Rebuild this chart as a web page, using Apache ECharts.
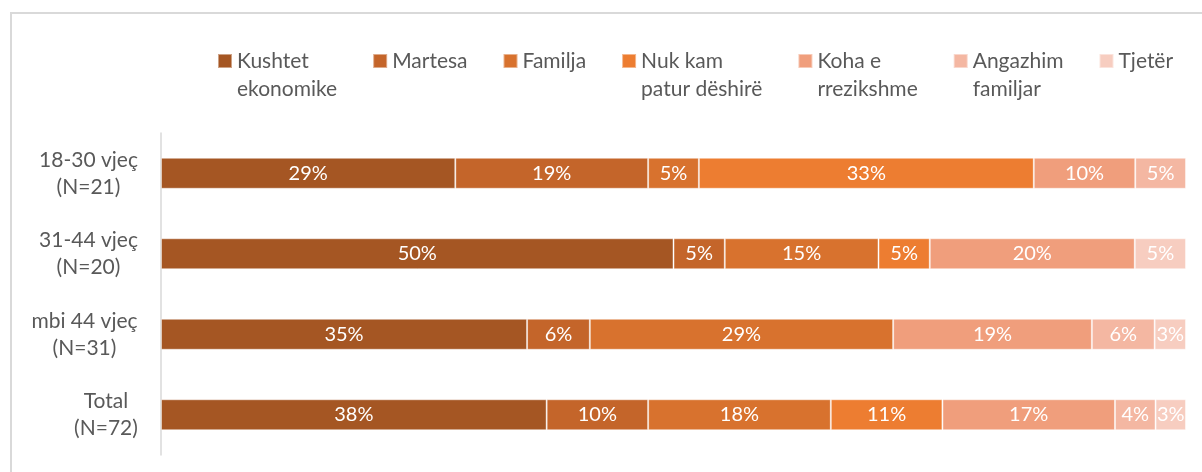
<!DOCTYPE html>
<html><head><meta charset="utf-8">
<script src="https://cdn.jsdelivr.net/npm/echarts@6/dist/echarts.min.js"></script>
<style>
html,body{margin:0;padding:0;background:#fff;}
#frame{position:absolute;left:10px;top:12px;width:1400px;height:700px;border-top:2px solid #d9d9d9;border-left:2px solid #d9d9d9;box-sizing:border-box;}
#chart{position:absolute;left:0;top:0;width:1202px;height:472px;}
</style></head><body>
<div id="frame"></div><div id="chart"></div>
<script>
const categories = ['18-30 vjeç\n(N=21)', '31-44 vjeç\n(N=20)', 'mbi 44 vjeç\n(N=31)', 'Total\n(N=72)'];
const seriesNames = ['Kushtet ekonomike', 'Martesa', 'Familja', 'Nuk kam patur dëshirë', 'Koha e rrezikshme', 'Angazhim familjar', 'Tjetër'];
const legendLines = ['Kushtet\nekonomike', 'Martesa\n ', 'Familja\n ', 'Nuk kam\npatur dëshirë', 'Koha e\nrrezikshme', 'Angazhim\nfamiljar', 'Tjetër\n '];
const kushtet  = [29, 50, 35, 38];
const martesa  = [19, 5, 6, 10];
const familja  = [5, 15, 29, 18];
const nukKam   = [33, 5, 0, 11];
const koha     = [10, 20, 19, 17];
const angazhim = [5, 0, 6, 4];
const tjeter   = [0, 5, 3, 3];
const values = [kushtet, martesa, familja, nukKam, koha, angazhim, tjeter];
const colors = ['#A55623', '#C4652A', '#D8722E', '#ED7D31', '#F09E7C', '#F4B7A2', '#F7CDC0'];

const FONT = 'Lato, "Open Sans", sans-serif';
// 100% stacked: normalise each row
const rowSums = categories.map((c, i) => values.reduce((s, v) => s + v[i], 0));

const ctx = document.createElement('canvas').getContext('2d');
ctx.font = '21px Lato';
const rich = {};
categories.forEach((c, i) => {
  const w = Math.max(...c.split('\n').map(l => ctx.measureText(l).width));
  rich['c' + i] = { width: Math.ceil(w), align: 'center', fontSize: 21, fontFamily: FONT, color: '#595959', lineHeight: 27 };
});
const legendMap = {};
seriesNames.forEach((n, i) => legendMap[n] = legendLines[i]);

const chart = echarts.init(document.getElementById('chart'), null, { renderer: 'canvas' });
chart.setOption({
  animation: false,
  color: colors,
  legend: {
    top: 42, left: 212, itemWidth: 14, itemHeight: 42, itemGap: 35,
    icon: 'path://M0,0L14,0L14,14L0,14Z M0,42',
    selectedMode: false,
    textStyle: { fontSize: 21, fontFamily: FONT, color: '#595959', lineHeight: 28 },
    formatter: name => legendMap[name]
  },
  grid: { left: 161, right: 16, top: 133, bottom: 17, containLabel: false },
  xAxis: { type: 'value', min: 0, max: 100, show: false },
  yAxis: {
    type: 'category', inverse: true, data: categories,
    axisLine: { lineStyle: { color: '#d9d9d9', width: 1.5 } },
    axisTick: { show: false },
    axisLabel: {
      margin: 23, align: 'right',
      formatter: (v, i) => v.split('\n').map(l => '{c' + i + '|' + l + '}').join('\n'),
      rich: rich
    }
  },
  series: seriesNames.map((name, si) => ({
    name: name, type: 'bar', stack: 'total', barWidth: 31,
    itemStyle: { borderColor: 'rgba(255,255,255,0.45)', borderWidth: 1 },
    label: {
      show: true, position: 'inside', color: '#fff', fontSize: 20, fontFamily: FONT,
      formatter: p => values[si][p.dataIndex] ? values[si][p.dataIndex] + '%' : ''
    },
    data: values[si].map((v, i) => v ? v / rowSums[i] * 100 : '-')
  }))
});
</script>
</body></html>
